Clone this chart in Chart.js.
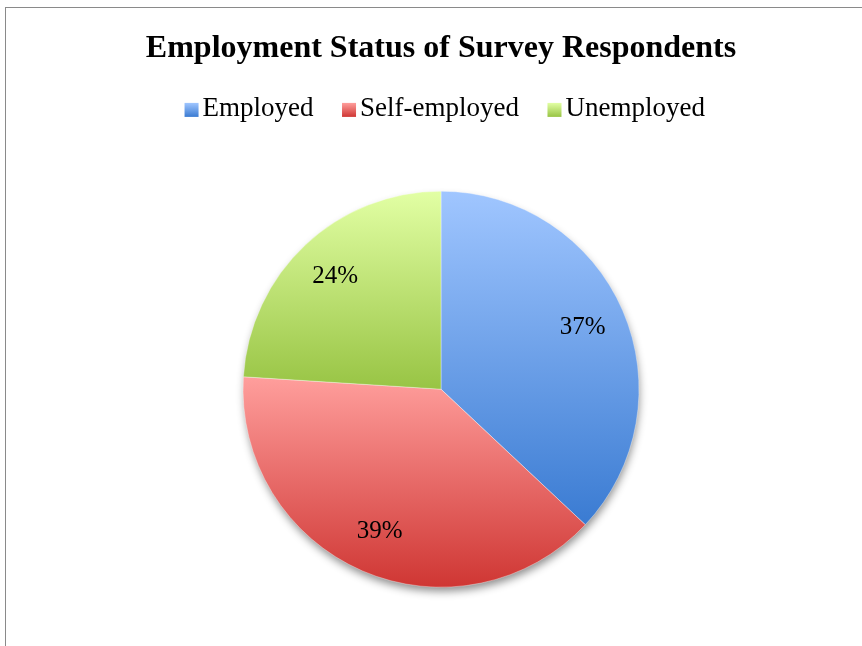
<!DOCTYPE html>
<html>
<head>
<meta charset="utf-8">
<title>Employment Status of Survey Respondents</title>
<script src="https://cdn.jsdelivr.net/npm/chart.js@4.4.1/dist/chart.umd.min.js"></script>
<style>
  html, body { margin: 0; padding: 0; background: #fff; overflow: hidden; }
  #frame {
    position: absolute; left: 5px; top: 7px; width: 900px; height: 700px;
    border: 1px solid #8a8a8a;
  }
  #wrap { position: absolute; left: 0; top: 0; width: 862px; height: 646px; }
</style>
</head>
<body>
<div id="frame"></div>
<div id="wrap"><canvas id="pieChart" width="862" height="646"></canvas></div>
<script>
const categories = ['Employed', 'Self-employed', 'Unemployed'];
const shares = [37, 39, 24];
const topColors = ['#a0c6ff', '#ff9e9c', '#e2ffa4'];
const bottomColors = ['#3a7bd2', '#cf3633', '#98c444'];

const serif = "'Liberation Serif', 'Times New Roman', serif";
const legendFontSize = 27;

// vertical gradient spanning one slice's own bounding box
function sliceBounds(arc) {
  const p = arc.getProps(['x', 'y', 'outerRadius', 'startAngle', 'endAngle'], true);
  const ys = [p.y, p.y + p.outerRadius * Math.sin(p.startAngle), p.y + p.outerRadius * Math.sin(p.endAngle)];
  [-Math.PI / 2, Math.PI / 2, 3 * Math.PI / 2].forEach(k => {
    if (k >= p.startAngle && k <= p.endAngle) ys.push(p.y + p.outerRadius * Math.sin(k));
  });
  return { p, minY: Math.min(...ys), maxY: Math.max(...ys) };
}

const pieStyle = {
  id: 'pieStyle',
  beforeDatasetsDraw(chart) {
    const ctx = chart.ctx;
    const meta = chart.getDatasetMeta(0);
    if (!meta.data.length) return;
    // soft drop shadow under the whole pie
    const first = meta.data[0].getProps(['x', 'y', 'outerRadius'], true);
    ctx.save();
    ctx.shadowColor = 'rgba(0,0,0,0.45)';
    ctx.shadowBlur = 9;
    ctx.shadowOffsetX = 1;
    ctx.shadowOffsetY = 5;
    ctx.beginPath();
    ctx.arc(first.x, first.y, first.outerRadius - 1, 0, Math.PI * 2);
    ctx.fillStyle = '#fff';
    ctx.fill();
    ctx.restore();

    meta.data.forEach((arc, i) => {
      const b = sliceBounds(arc);
      const g = ctx.createLinearGradient(0, b.minY, 0, b.maxY);
      g.addColorStop(0, topColors[i]);
      g.addColorStop(1, bottomColors[i]);
      arc.options.backgroundColor = g;
    });
  },
  afterDatasetsDraw(chart) {
    const ctx = chart.ctx;
    const meta = chart.getDatasetMeta(0);
    ctx.save();
    ctx.font = '25px ' + serif;
    ctx.fillStyle = '#000';
    ctx.textAlign = 'center';
    ctx.textBaseline = 'middle';
    meta.data.forEach((arc, i) => {
      const p = arc.getProps(['x', 'y', 'outerRadius', 'startAngle', 'endAngle'], true);
      const mid = (p.startAngle + p.endAngle) / 2;
      const d = p.outerRadius * 0.78;
      ctx.fillText(shares[i] + '%', p.x + Math.cos(mid) * d, p.y + Math.sin(mid) * d);
    });
    ctx.restore();
  },
  afterDraw(chart) {
    // gradient legend swatches, set close to their label text
    const ctx = chart.ctx;
    const boxes = chart.legend.legendHitBoxes || [];
    const boxW = chart.options.plugins.legend.labels.boxWidth;
    boxes.forEach((hb, i) => {
      const s = 14;
      const textX = hb.left + boxW + legendFontSize / 2;
      const left = textX - 4 - s;
      const top = hb.top + (hb.height - s) / 2 + 1;
      const g = ctx.createLinearGradient(0, top, 0, top + s);
      g.addColorStop(0, topColors[i]);
      g.addColorStop(1, bottomColors[i]);
      ctx.fillStyle = g;
      ctx.fillRect(left, top, s, s);
    });
  }
};

new Chart(document.getElementById('pieChart'), {
  type: 'pie',
  data: {
    labels: categories,
    datasets: [{
      data: shares,
      backgroundColor: bottomColors,
      borderColor: 'rgba(255,255,255,0.35)',
      borderWidth: 1,
      radius: 198
    }]
  },
  options: {
    responsive: false,
    animation: false,
    events: [],
    layout: { padding: { left: 20, right: 0, top: 2, bottom: 0 } },
    plugins: {
      title: {
        display: true,
        text: 'Employment Status of Survey Respondents',
        color: '#000',
        font: { family: serif, size: 32, weight: 'bold' },
        padding: { top: 28, bottom: 6 }
      },
      legend: {
        display: true,
        position: 'top',
        labels: {
          color: '#000',
          font: { family: serif, size: legendFontSize },
          boxWidth: 12,
          boxHeight: 12,
          padding: 21,
          generateLabels: (chart) => categories.map((c, i) => ({
            text: c,
            fillStyle: 'rgba(0,0,0,0)',
            strokeStyle: 'rgba(0,0,0,0)',
            lineWidth: 0,
            index: i,
            hidden: false
          }))
        }
      },
      tooltip: { enabled: false }
    }
  },
  plugins: [pieStyle]
});
</script>
</body>
</html>
